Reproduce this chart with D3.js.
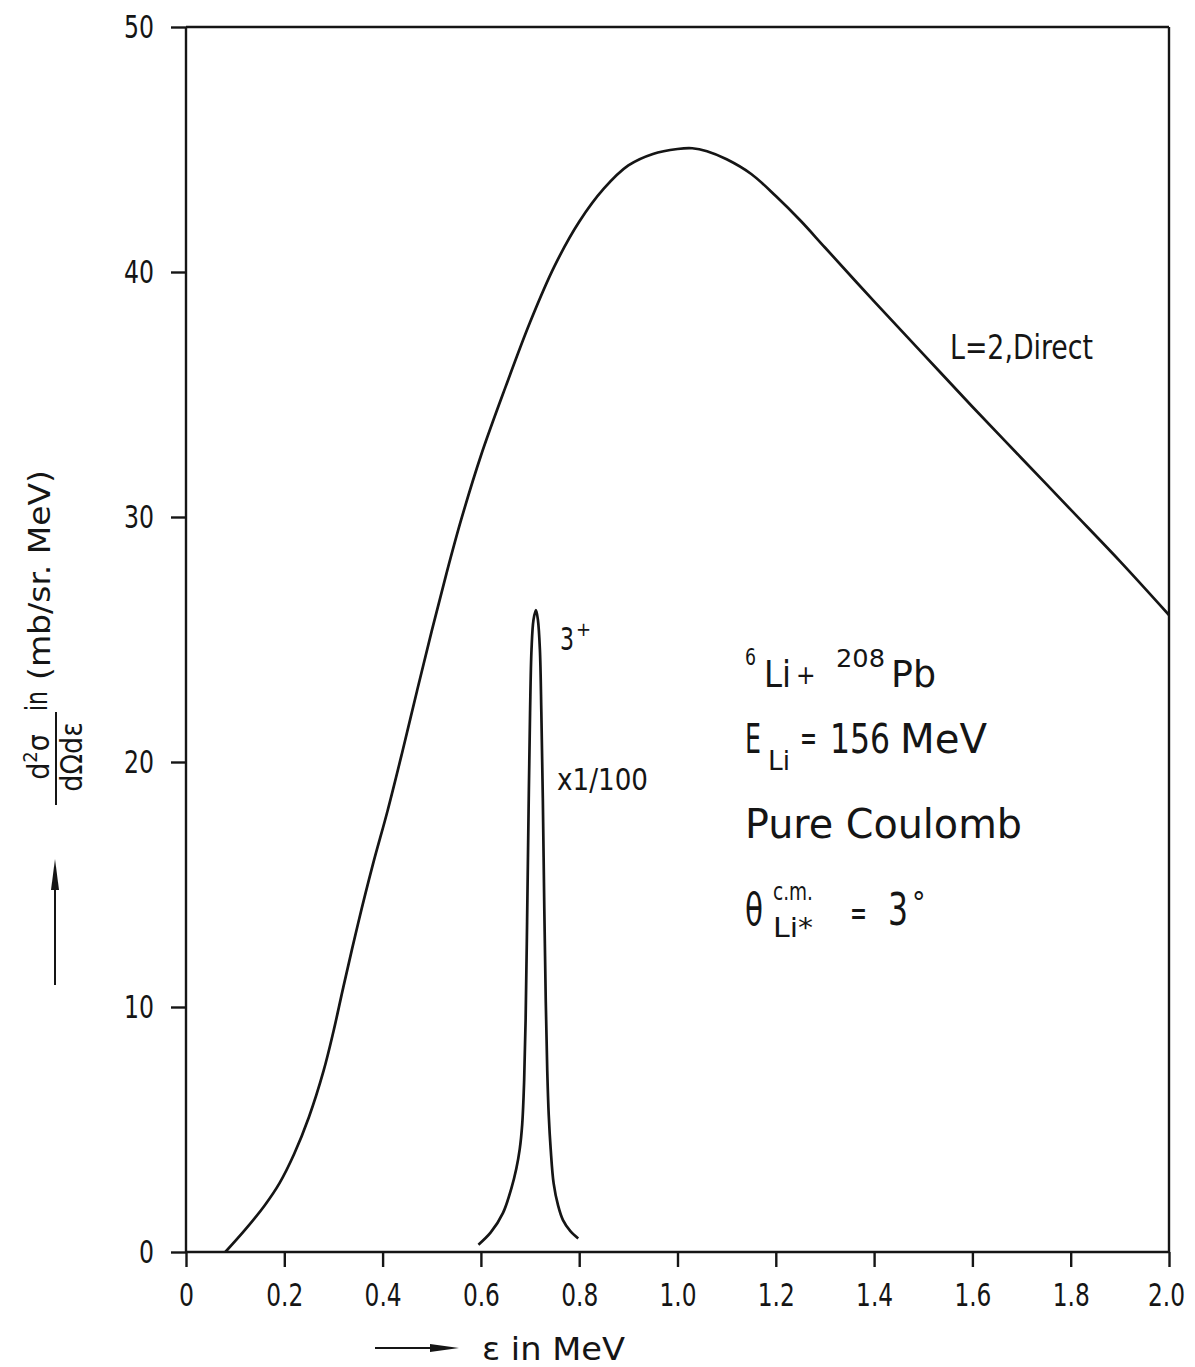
<!DOCTYPE html>
<html><head><meta charset="utf-8">
<script src="https://cdn.jsdelivr.net/npm/d3@7"></script>
<style>
body{margin:0;background:#fff;}
svg text{font-family:"DejaVu Sans Condensed","DejaVu Sans",sans-serif;font-stretch:condensed;fill:#151515;}
</style></head><body>
<svg id="c" width="1195" height="1367"></svg>
<script>
// ---- data ----
const xTicks = [0,0.2,0.4,0.6,0.8,1.0,1.2,1.4,1.6,1.8,2.0];
const xTickLabels = ["0","0.2","0.4","0.6","0.8","1.0","1.2","1.4","1.6","1.8","2.0"];
const yTicks = [0,10,20,30,40,50];
const yTickLabels = ["0","10","20","30","40","50"];

// L=2, Direct
const directX = [0.08,0.12,0.16,0.19,0.22,0.25,0.28,0.30,0.32,0.35,0.38,0.41,0.44,0.47,0.50,0.53,0.56,0.60,0.65,0.70,0.75,0.80,0.85,0.90,0.95,1.00,1.03,1.06,1.10,1.15,1.20,1.25,1.30,1.40,1.50,1.60,1.70,1.80,1.90,2.00];
const directY = [0,0.9,1.9,2.8,4.0,5.5,7.4,9.0,10.8,13.4,15.8,18.0,20.4,22.9,25.35,27.7,29.9,32.5,35.3,37.95,40.25,42.05,43.4,44.35,44.82,45.02,45.05,44.93,44.6,44.0,43.1,42.1,41.0,38.8,36.65,34.5,32.4,30.3,28.2,26.0];

// 3+ resonance (x1/100)
const peakX = [0.595,0.62,0.645,0.662,0.672,0.679,0.684,0.688,0.691,0.694,0.697,0.700,0.703,0.707,0.712,0.716,0.720,0.723,0.726,0.729,0.732,0.735,0.738,0.742,0.748,0.757,0.767,0.782,0.798];
const peakY = [0.3,0.8,1.6,2.6,3.4,4.2,5.2,7.0,9.5,13.5,18.0,22.0,24.6,25.8,26.2,25.8,24.6,22.0,18.5,14.0,10.2,7.4,5.6,4.2,2.8,1.9,1.3,0.85,0.55];

// ---- drawing ----
const svg = d3.select("#c");
const x = d3.scaleLinear().domain([0,2]).range([186,1169]);
const y = d3.scaleLinear().domain([0,50]).range([1252,27]);
const ink = "#151515";

// frame
const frame = svg.append("g").attr("stroke",ink).attr("stroke-width",2.4).attr("fill","none");
frame.append("line").attr("x1",x(0)).attr("x2",x(2)).attr("y1",y(0)).attr("y2",y(0));
frame.append("line").attr("x1",x(0)).attr("x2",x(2)).attr("y1",y(50)).attr("y2",y(50));
frame.append("line").attr("x1",x(0)).attr("x2",x(0)).attr("y1",y(0)).attr("y2",y(50));
frame.append("line").attr("x1",x(2)).attr("x2",x(2)).attr("y1",y(0)).attr("y2",y(50));

function labLen(s){ let w=0; for(const c of s) w += (c==="."?7:15); return w; }

const xAxis = d3.axisBottom(x).tickValues(xTicks).tickSize(15).tickPadding(16)
  .tickFormat((d,i)=>xTickLabels[i]);
const gx = svg.append("g").attr("transform",`translate(0,${y(0)})`).call(xAxis);
const yAxis = d3.axisLeft(y).tickValues(yTicks).tickSize(15).tickPadding(17)
  .tickFormat((d,i)=>yTickLabels[i]);
const gy = svg.append("g").attr("transform",`translate(${x(0)},0)`).call(yAxis);
[gx,gy].forEach(g=>{
  g.select(".domain").remove();
  g.selectAll(".tick line").attr("stroke",ink).attr("stroke-width",2.4);
  g.selectAll(".tick text").attr("font-size",32).attr("fill",ink)
   .style("font-family",'"DejaVu Sans Condensed","DejaVu Sans",sans-serif')
   .attr("textLength",function(){return labLen(this.textContent);})
   .attr("lengthAdjust","spacingAndGlyphs");
});
// keep the last x label inside the page
gx.selectAll(".tick text").filter((d)=>d===2).attr("dx",-3);

// curves
const line = d3.line().x(d=>x(d[0])).y(d=>y(d[1])).curve(d3.curveCatmullRom.alpha(0.5));
svg.append("path").datum(d3.zip(directX,directY)).attr("d",line)
  .attr("fill","none").attr("stroke",ink).attr("stroke-width",2.7);
svg.append("path").datum(d3.zip(peakX,peakY)).attr("d",line)
  .attr("fill","none").attr("stroke",ink).attr("stroke-width",2.7);

// helper for text
function t(str,xx,yy,size,len){
  const e = svg.append("text").attr("x",xx).attr("y",yy).attr("font-size",size).text(str);
  if(len) e.attr("textLength",len).attr("lengthAdjust","spacingAndGlyphs");
  return e;
}

// curve labels
t("L=2,Direct",950,359,33,143);
t("3",560,650,32,14);
t("+",576,636,20);
t("x1/100",557,790,30,91);

// reaction block
t("6",745,665,23,11);
t("Li",764,687,38,27);
t("+",796,684,26);
t("208",836,667,25,49);
t("Pb",891,687,38,45);

t("E",745,753,40,16);
t("Li",768,770,26,22);
t("=",800,750,36,17);
t("156",830,753,40,60);
t("MeV",900,753,40,87);

t("Pure Coulomb",745,838,40,277);

t("θ",745,925,44,18);
t("c.m.",773,900,24,40);
t("Li*",773,937,26,40);
t("=",850,925,36,17);
t("3",888,925,44,20);
t("°",912,913,30);

// x-axis title
const axg = svg.append("g");
axg.append("line").attr("x1",375).attr("x2",440).attr("y1",1348).attr("y2",1348)
  .attr("stroke",ink).attr("stroke-width",2);
axg.append("polygon").attr("points","430,1344 459,1348 430,1352").attr("fill",ink);
t("ε in MeV",482,1360,32,143);

// y-axis title (rotated)
const yt = svg.append("g").attr("transform","rotate(-90)");
yt.append("line").attr("x1",-985).attr("x2",-880).attr("y1",55).attr("y2",55)
  .attr("stroke",ink).attr("stroke-width",2);
yt.append("polygon").attr("points","-890,51 -859,55 -890,59").attr("fill",ink);
const num = yt.append("text").attr("x",-757).attr("y",49).attr("font-size",30).attr("text-anchor","middle");
num.append("tspan").text("d");
num.append("tspan").attr("font-size",20).attr("dy",-12).text("2");
num.append("tspan").attr("dy",12).text("σ");
yt.append("line").attr("x1",-805).attr("x2",-712).attr("y1",56).attr("y2",56)
  .attr("stroke",ink).attr("stroke-width",2);
yt.append("text").attr("x",-757).attr("y",82).attr("font-size",30).attr("text-anchor","middle").text("dΩdε");
yt.append("text").attr("x",-711).attr("y",47).attr("font-size",30).attr("textLength",20).attr("lengthAdjust","spacingAndGlyphs").text("in");
yt.append("text").attr("x",-680).attr("y",50).attr("font-size",30)
  .attr("textLength",210).attr("lengthAdjust","spacingAndGlyphs").text("(mb/sr. MeV)");
</script>
</body></html>
